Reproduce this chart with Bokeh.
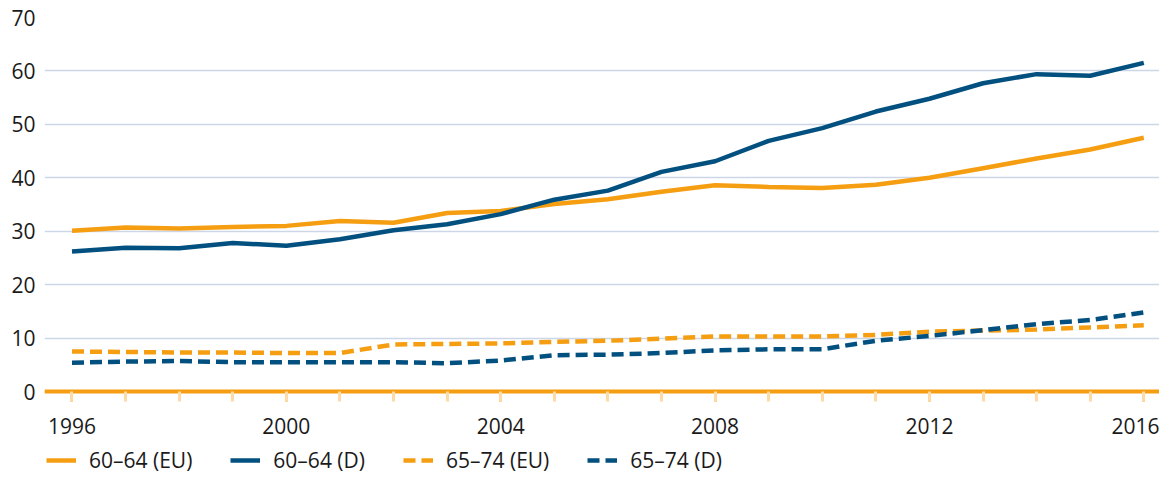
from bokeh.plotting import figure
from bokeh.models import ColumnDataSource, FixedTicker, Legend, LegendItem, Range1d
from bokeh.embed import file_html
from bokeh.resources import INLINE

years = list(range(1996, 2017))
eu_6064 = [30.1, 30.7, 30.5, 30.8, 31.0, 31.9, 31.6, 33.4, 33.8, 35.1, 36.0, 37.4, 38.6, 38.3, 38.1, 38.7, 40.0, 41.8, 43.6, 45.3, 47.5]
d_6064 = [26.2, 26.9, 26.8, 27.8, 27.3, 28.5, 30.2, 31.3, 33.2, 35.9, 37.6, 41.1, 43.1, 46.9, 49.3, 52.4, 54.8, 57.7, 59.4, 59.1, 61.5]
eu_6574 = [7.5, 7.4, 7.3, 7.3, 7.2, 7.2, 8.8, 8.9, 9.0, 9.3, 9.5, 9.9, 10.3, 10.3, 10.3, 10.6, 11.2, 11.4, 11.6, 12.0, 12.4]
d_6574 = [5.4, 5.6, 5.7, 5.5, 5.5, 5.5, 5.5, 5.3, 5.8, 6.8, 6.9, 7.2, 7.7, 7.9, 7.9, 9.5, 10.4, 11.5, 12.6, 13.4, 14.8]
labels = ["60–64 (EU)", "60–64 (D)", "65–74 (EU)", "65–74 (D)"]
major_years = [1996, 2000, 2004, 2008, 2012, 2016]
y_ticks = [0, 10, 20, 30, 40, 50, 60, 70]

ORANGE = "#F59E12"
BLUE = "#02507F"
FONT = "Open Sans"
TEXT = "#1A1A1A"

src = ColumnDataSource(dict(year=years, eu_6064=eu_6064, d_6064=d_6064, eu_6574=eu_6574, d_6574=d_6574))

# frame runs to the bottom of the canvas; the x axis sits at y = 0 and the legend lives below it
p = figure(width=1159, height=474, output_backend="svg", toolbar_location=None,
           x_range=Range1d(1995.487, 2016.293), y_range=Range1d(-15.53, 70),
           min_border_left=44, min_border_right=0, min_border_top=17, min_border_bottom=0)
p.outline_line_color = None
p.background_fill_color = "white"
p.border_fill_color = "white"

r1 = p.line("year", "eu_6064", source=src, line_color=ORANGE, line_width=4.5)
r2 = p.line("year", "d_6064", source=src, line_color=BLUE, line_width=4.5)
r3 = p.line("year", "eu_6574", source=src, line_color=ORANGE, line_width=4.5, line_dash="12 6")
r4 = p.line("year", "d_6574", source=src, line_color=BLUE, line_width=4.5, line_dash="12 6")

p.xgrid.grid_line_color = None
p.ygrid.grid_line_color = "#CCD6E6"
p.ygrid.grid_line_width = 1.5
p.ygrid.ticker = FixedTicker(ticks=y_ticks)

xa = p.xaxis[0]
xa.fixed_location = 0
xa.ticker = FixedTicker(ticks=major_years, minor_ticks=years)
xa.axis_line_color = ORANGE
xa.axis_line_width = 4
xa.major_tick_line_color = ORANGE
xa.major_tick_line_width = 3
xa.major_tick_out = 10
xa.major_tick_in = 0
xa.minor_tick_line_color = "#FDDAA6"
xa.minor_tick_line_width = 3
xa.minor_tick_out = 10
xa.minor_tick_in = 0
xa.major_label_text_font = FONT
xa.major_label_text_font_size = "21px"
xa.major_label_text_color = TEXT
xa.major_label_standoff = 16

ya = p.yaxis[0]
ya.ticker = FixedTicker(ticks=y_ticks)
ya.axis_line_color = None
ya.major_tick_line_color = None
ya.minor_tick_line_color = None
ya.major_tick_out = 0
ya.major_label_text_font = FONT
ya.major_label_text_font_size = "21px"
ya.major_label_text_color = TEXT
ya.major_label_standoff = 9

legend = Legend(items=[LegendItem(label=labels[0], renderers=[r1]),
                       LegendItem(label=labels[1], renderers=[r2]),
                       LegendItem(label=labels[2], renderers=[r3]),
                       LegendItem(label=labels[3], renderers=[r4])],
                location=(2, 0), orientation="horizontal",
                glyph_width=30, glyph_height=20, label_standoff=13, spacing=38,
                padding=0, margin=0, border_line_color=None, background_fill_alpha=0,
                label_text_font=FONT, label_text_font_size="21px", label_text_color=TEXT)
p.add_layout(legend, "center")

open("out.html", "w").write(file_html(p, INLINE))
